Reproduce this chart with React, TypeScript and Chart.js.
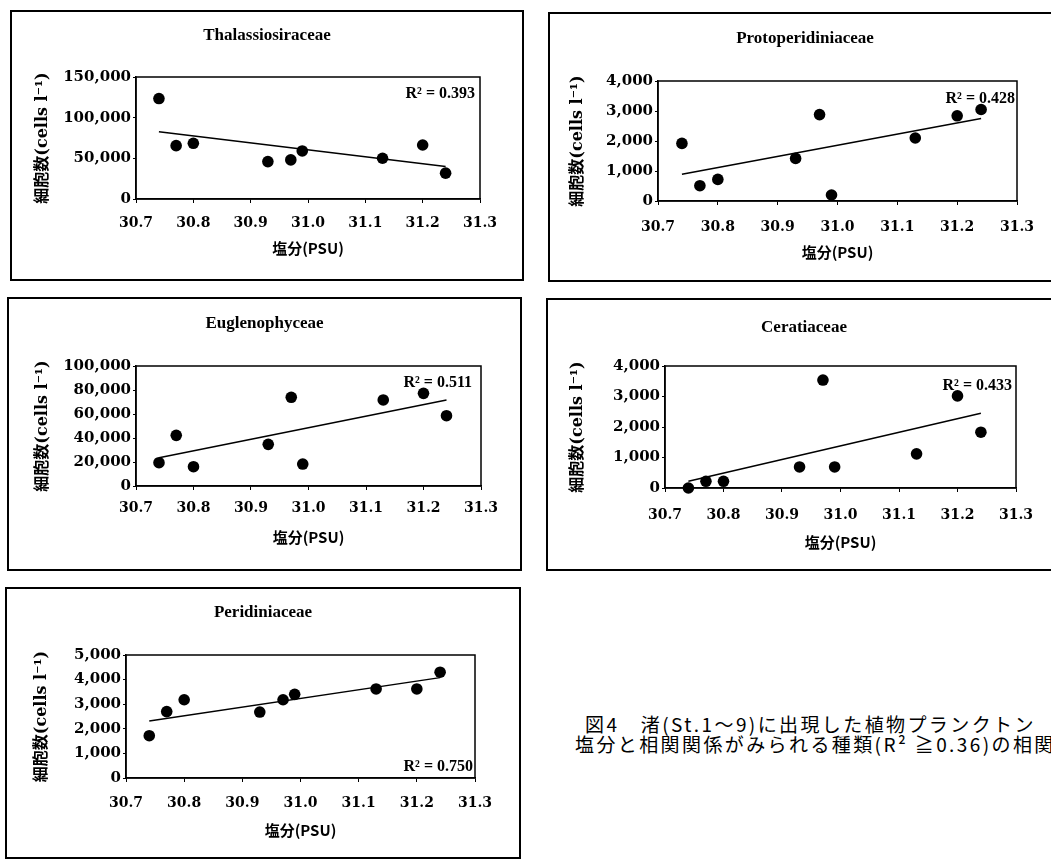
import React, { useEffect, useRef } from 'react';
import { Chart, registerables } from 'chart.js';
Chart.register(...registerables);

// ---------- data ----------
const salinity = [30.74, 30.77, 30.8, 30.93, 30.97, 30.99, 31.13, 31.2, 31.24];
const xTickValues = [30.7, 30.8, 30.9, 31.0, 31.1, 31.2, 31.3];

const thalassiosiraceae = [123500, 65600, 68500, 46000, 48100, 59100, 50100, 66400, 31800];
const thalassiosiraceaeTrend = [82700, 39900];
const thalassiosiraceaeYTicks = [0, 50000, 100000, 150000];

const protoperidiniaceae = [1920, 510, 720, 1420, 2880, 200, 2100, 2840, 3050];
const protoperidiniaceaeTrend = [890, 2750];
const protoperidiniaceaeYTicks = [0, 1000, 2000, 3000, 4000];

const euglenophyceae = [19400, 42200, 16100, 34700, 73900, 18300, 71700, 77200, 58600];
const euglenophyceaeTrend = [23600, 71700];
const euglenophyceaeYTicks = [0, 20000, 40000, 60000, 80000, 100000];

const ceratiaceae = [0, 220, 220, 690, 3540, 690, 1120, 3020, 1830];
const ceratiaceaeTrend = [220, 2450];
const ceratiaceaeYTicks = [0, 1000, 2000, 3000, 4000];

const peridiniaceae = [1720, 2700, 3180, 2680, 3180, 3400, 3620, 3620, 4300];
const peridiniaceaeTrend = [2320, 4080];
const peridiniaceaeYTicks = [0, 1000, 2000, 3000, 4000, 5000];

const xAxisTitle = '塩分(PSU)';
const yAxisTitle = '細胞数(cells l⁻¹)';
const captionLine1 = '図4　渚(St.1～9)に出現した植物プランクトン';
const captionLine2 = '塩分と相関関係がみられる種類(R² ≧0.36)の相関図';

// ---------- layout ----------
type Geo = {
  left: number; top: number; w: number; h: number;
  plotL: number; rightPad: number; plotT: number; xHeight: number;
  titleC: number; xTickC: number; xTitleB: number; yTitleC: number;
  r2Pos: 'top' | 'bottom'; r2dx: number; r2dy: number;
};

type PanelDef = {
  title: string; values: number[]; trend: number[]; yTicks: number[]; r2: string; geo: Geo;
};

const panels: PanelDef[] = [
  {
    title: 'Thalassiosiraceae', values: thalassiosiraceae, trend: thalassiosiraceaeTrend,
    yTicks: thalassiosiraceaeYTicks, r2: 'R² = 0.393',
    geo: { left: 10, top: 10, w: 514, h: 271, plotL: 124, rightPad: 42, plotT: 65, xHeight: 80,
      titleC: 24, xTickC: 24, xTitleB: 31, yTitleC: 31, r2Pos: 'top', r2dx: 5, r2dy: 17 },
  },
  {
    title: 'Protoperidiniaceae', values: protoperidiniaceae, trend: protoperidiniaceaeTrend,
    yTicks: protoperidiniaceaeYTicks, r2: 'R² = 0.428',
    geo: { left: 548, top: 12, w: 514, h: 270, plotL: 108, rightPad: 43, plotT: 67, xHeight: 79,
      titleC: 25, xTickC: 26, xTitleB: 28, yTitleC: 28, r2Pos: 'top', r2dx: 2, r2dy: 18 },
  },
  {
    title: 'Euglenophyceae', values: euglenophyceae, trend: euglenophyceaeTrend,
    yTicks: euglenophyceaeYTicks, r2: 'R² = 0.511',
    geo: { left: 7, top: 297, w: 515, h: 274, plotL: 127, rightPad: 39, plotT: 67, xHeight: 83,
      titleC: 25, xTickC: 22, xTitleB: 32, yTitleC: 34, r2Pos: 'top', r2dx: 9, r2dy: 17 },
  },
  {
    title: 'Ceratiaceae', values: ceratiaceae, trend: ceratiaceaeTrend,
    yTicks: ceratiaceaeYTicks, r2: 'R² = 0.433',
    geo: { left: 546, top: 298, w: 516, h: 273, plotL: 117, rightPad: 44, plotT: 66, xHeight: 81,
      titleC: 28, xTickC: 27, xTitleB: 27, yTitleC: 30, r2Pos: 'top', r2dx: 4, r2dy: 20 },
  },
  {
    title: 'Peridiniaceae', values: peridiniaceae, trend: peridiniaceaeTrend,
    yTicks: peridiniaceaeYTicks, r2: 'R² = 0.750',
    geo: { left: 5, top: 587, w: 516, h: 272, plotL: 119, rightPad: 44, plotT: 66, xHeight: 79,
      titleC: 24, xTickC: 25, xTitleB: 27, yTitleC: 35, r2Pos: 'bottom', r2dx: 2, r2dy: 11 },
  },
];

const BORDER = 2;
const serif = "'DejaVu Serif', 'Noto Sans CJK JP', serif";
const timesFont = "'Liberation Serif', 'Times New Roman', serif";

const framePlugin = {
  id: 'frame',
  beforeDatasetsDraw(chart: any) {
    const { ctx, chartArea } = chart;
    ctx.save();
    ctx.strokeStyle = '#000';
    ctx.lineWidth = 1.5;
    ctx.strokeRect(chartArea.left, chartArea.top, chartArea.right - chartArea.left, chartArea.bottom - chartArea.top);
    ctx.restore();
  },
};

function Panel({ def }: { def: PanelDef }) {
  const ref = useRef<HTMLCanvasElement>(null);
  const g = def.geo;
  const cw = g.w - BORDER * 2;
  const ch = g.h - BORDER * 2;

  useEffect(() => {
    const canvas = ref.current!;
    const titleSize = 17;
    const titleLH = titleSize * 1.2;
    const titlePadTop = g.titleC - titleLH / 2;
    const titlePadBottom = g.plotT - titlePadTop - titleLH;

    const r2Plugin = {
      id: 'r2label',
      beforeDatasetsDraw(chart: any) {
        const { ctx, chartArea } = chart;
        ctx.save();
        ctx.font = `bold 16px ${timesFont}`;
        ctx.fillStyle = '#000';
        ctx.textAlign = 'right';
        ctx.textBaseline = 'middle';
        const y = g.r2Pos === 'top' ? chartArea.top + g.r2dy : chartArea.bottom - g.r2dy;
        ctx.fillText(def.r2, chartArea.right - g.r2dx, y);
        ctx.restore();
      },
    };

    const chart = new Chart(canvas, {
      type: 'scatter',
      data: {
        datasets: [
          {
            data: def.values.map((v, i) => ({ x: salinity[i], y: v })),
            pointRadius: 5.8,
            pointBackgroundColor: '#000',
            pointBorderColor: '#000',
            pointBorderWidth: 0,
            showLine: false,
            clip: false as any,
            order: 0,
          },
          {
            data: [
              { x: salinity[0], y: def.trend[0] },
              { x: salinity[salinity.length - 1], y: def.trend[1] },
            ],
            showLine: true,
            borderColor: '#000',
            borderWidth: 1.5,
            pointRadius: 0,
            clip: false as any,
            order: 1,
          },
        ],
      },
      options: {
        responsive: false,
        animation: false,
        layout: { padding: 0 },
        plugins: {
          legend: { display: false },
          tooltip: { enabled: false },
          title: {
            display: true,
            text: def.title,
            color: '#000',
            font: { family: timesFont, size: titleSize, weight: 'bold', lineHeight: 1.2 },
            padding: { top: titlePadTop, bottom: titlePadBottom },
          },
        },
        scales: {
          x: {
            type: 'linear',
            position: 'bottom',
            min: 30.7,
            max: 31.3,
            afterBuildTicks: (s: any) => { s.ticks = xTickValues.map((v) => ({ value: v })); },
            afterFit: (s: any) => { s.height = g.xHeight; },
            ticks: {
              callback: (v: any) => Number(v).toFixed(1),
              color: '#000',
              font: { family: serif, size: 14, weight: 'bold', lineHeight: 1.2 },
              padding: g.xTickC - 4 - 8.4,
              maxRotation: 0,
              autoSkip: false,
            },
            grid: { drawOnChartArea: false, drawTicks: true, tickLength: 4, color: '#000', lineWidth: 1 },
            border: { display: true, color: '#000', width: 1.5 },
            title: {
              display: true,
              text: xAxisTitle,
              color: '#000',
              font: { family: "'Noto Sans CJK JP', sans-serif", size: 15, weight: 'bold', lineHeight: 1.2 },
              padding: { top: 0, bottom: g.xTitleB - 9 },
            },
          },
          y: {
            type: 'linear',
            position: 'left',
            min: 0,
            max: def.yTicks[def.yTicks.length - 1],
            afterBuildTicks: (s: any) => { s.ticks = def.yTicks.map((v) => ({ value: v })); },
            afterFit: (s: any) => { s.width = g.plotL; },
            ticks: {
              callback: (v: any) => Number(v).toLocaleString('en-US'),
              color: '#000',
              font: { family: serif, size: 15, weight: 'bold', lineHeight: 1.2 },
              padding: 2,
              autoSkip: false,
            },
            grid: { drawOnChartArea: false, drawTicks: true, tickLength: 3, color: '#000', lineWidth: 1 },
            border: { display: true, color: '#000', width: 1.5 },
            title: {
              display: true,
              text: yAxisTitle,
              color: '#000',
              font: { family: serif, size: 16, weight: 'bold', lineHeight: 1.2 },
              padding: { top: g.yTitleC - 9.6, bottom: 0 },
            },
          },
          yRight: {
            type: 'linear',
            axis: 'y',
            position: 'right',
            display: true,
            grid: { display: false },
            border: { display: false },
            ticks: { display: false },
            afterFit: (s: any) => { s.width = g.rightPad; },
          },
        },
      } as any,
      plugins: [framePlugin, r2Plugin],
    });
    return () => chart.destroy();
  }, []);

  return (
    <div
      style={{
        position: 'absolute', left: g.left, top: g.top, width: g.w, height: g.h,
        border: `${BORDER}px solid #000`, boxSizing: 'border-box', background: '#fff',
      }}
    >
      <canvas ref={ref} width={cw} height={ch} style={{ display: 'block', width: cw, height: ch }} />
    </div>
  );
}

export default function App() {
  const capStyle: React.CSSProperties = {
    position: 'absolute', whiteSpace: 'nowrap', fontFamily: "'Noto Sans CJK JP', sans-serif",
    fontSize: 19, letterSpacing: 2.4, color: '#000', lineHeight: '20px',
  };
  return (
    <div style={{ position: 'fixed', left: 0, top: 0, width: 1051, height: 860, overflow: 'hidden', background: '#fff' }}>
      {panels.map((p) => <Panel key={p.title} def={p} />)}
      <div style={{ ...capStyle, left: 585, top: 714 }}>{captionLine1}</div>
      <div style={{ ...capStyle, left: 575, top: 734 }}>{captionLine2}</div>
    </div>
  );
}
